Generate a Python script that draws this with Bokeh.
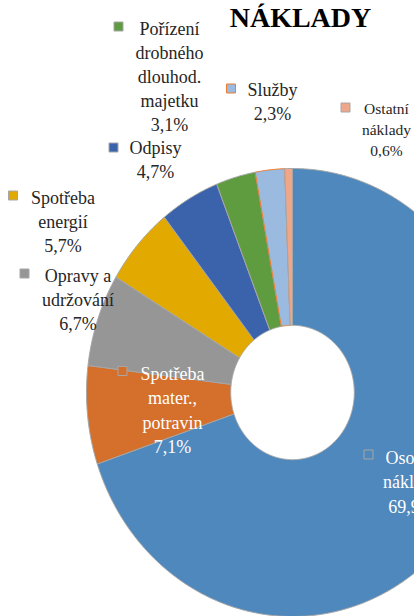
import numpy as np
from bokeh.plotting import figure
from bokeh.models import Range1d, ColumnDataSource
from bokeh.core.properties import value
from bokeh.embed import file_html
from bokeh.resources import INLINE

# ---------------- data ----------------
title_text = "NÁKLADY"
categories = ["Osobní náklady", "Spotřeba mater., potravin", "Opravy a udržování",
              "Spotřeba energií", "Odpisy", "Pořízení drobného dlouhod. majetku",
              "Služby", "Ostatní náklady"]
values = [69.9, 7.1, 6.7, 5.7, 4.7, 3.1, 2.3, 0.6]
label_lines = [["Osobní", "náklady"], ["Spotřeba", "mater.,", "potravin"],
               ["Opravy a", "udržování"], ["Spotřeba", "energií"], ["Odpisy"],
               ["Pořízení", "drobného", "dlouhod.", "majetku"], ["Služby"],
               ["Ostatní", "náklady"]]
colors = ["#4F88BD", "#D4702B", "#969696", "#E2AA00", "#3B63AC", "#5F9B3F",
          "#9BBAE0", "#F0A688"]
edge_colors = ["#a6a6a6", "#a6a6a6", "#a6a6a6", "#a6a6a6", "#a6a6a6", "#a6a6a6",
               "#ED7D31", "#a6a6a6"]
text_colors = ["white", "white", "#262626", "#262626", "#262626", "#262626",
               "#262626", "#262626"]

# ---------------- layout (page pixels) ----------------
W, H = 414, 616
CX, CY = 292, 392                # pie centre in pixels
RX, RY = 206.0, 224.0            # pixel scale of one data unit
HOLE = 0.30
# text centre x, first line y, line spacing, font px, marker x, marker y
label_pos = [
    (411, 457, 24.5, 18, 368, 454),
    (172, 373, 24.5, 18, 122, 370.5),
    (77.5, 275, 24, 18, 24, 273),
    (62.5, 197, 24, 18, 12.5, 195),
    (155, 147, 24, 18, 113, 147),
    (169, 28, 24, 18, 118, 26),
    (272, 89, 24, 18, 230.5, 88),
    (386, 108, 21, 15.5, 345, 107),
]


def dx(px):
    return (px - CX) / RX


def dy(py):
    return (CY - py) / RY


p = figure(width=W, height=H, output_backend="svg", toolbar_location=None,
           x_range=Range1d(-CX / RX, (W - CX) / RX),
           y_range=Range1d(-(H - CY) / RY, CY / RY),
           min_border=0, background_fill_color="white", border_fill_color="white")
p.axis.visible = False
p.grid.visible = False
p.outline_line_color = None

# ---------------- slices ----------------
total = sum(values)
cum = np.concatenate([[0], np.cumsum(values)]) / total
xs, ys = [], []
for i in range(len(values)):
    a0 = np.pi / 2 - 2 * np.pi * cum[i]
    a1 = np.pi / 2 - 2 * np.pi * cum[i + 1]
    n = max(4, int(abs(a1 - a0) * 120))
    t = np.linspace(a0, a1, n)
    ox, oy = np.cos(t), np.sin(t)
    ix, iy = HOLE * np.cos(t[::-1]), HOLE * np.sin(t[::-1])
    xs.append(list(np.concatenate([ox, ix])))
    ys.append(list(np.concatenate([oy, iy])))

src = ColumnDataSource(dict(xs=xs, ys=ys, fill=colors, line=edge_colors))
p.patches("xs", "ys", source=src, fill_color="fill", line_color="line", line_width=1)

# ---------------- labels ----------------
for i, cat in enumerate(categories):
    tx, ty, sp, fs, mx, my = label_pos[i]
    pct = f"{values[i]:.1f}".replace(".", ",") + "%"
    lines = label_lines[i] + [pct]
    p.text(x=[dx(tx)] * len(lines), y=[dy(ty + k * sp) for k in range(len(lines))],
           text=lines, text_font=value("Liberation Serif"),
           text_font_size=f"{fs}px", text_color=text_colors[i],
           text_align="center", text_baseline="middle")
    p.scatter(x=[dx(mx)], y=[dy(my)], marker="square", size=9,
              fill_color=colors[i], line_color=edge_colors[i], line_width=1)

p.text(x=[dx(300)], y=[dy(17)], text=[title_text], text_font=value("Liberation Serif"),
       text_font_size="28px", text_font_style="bold", text_color="black",
       text_align="center", text_baseline="middle")

open("out.html", "w").write(file_html(p, INLINE))
